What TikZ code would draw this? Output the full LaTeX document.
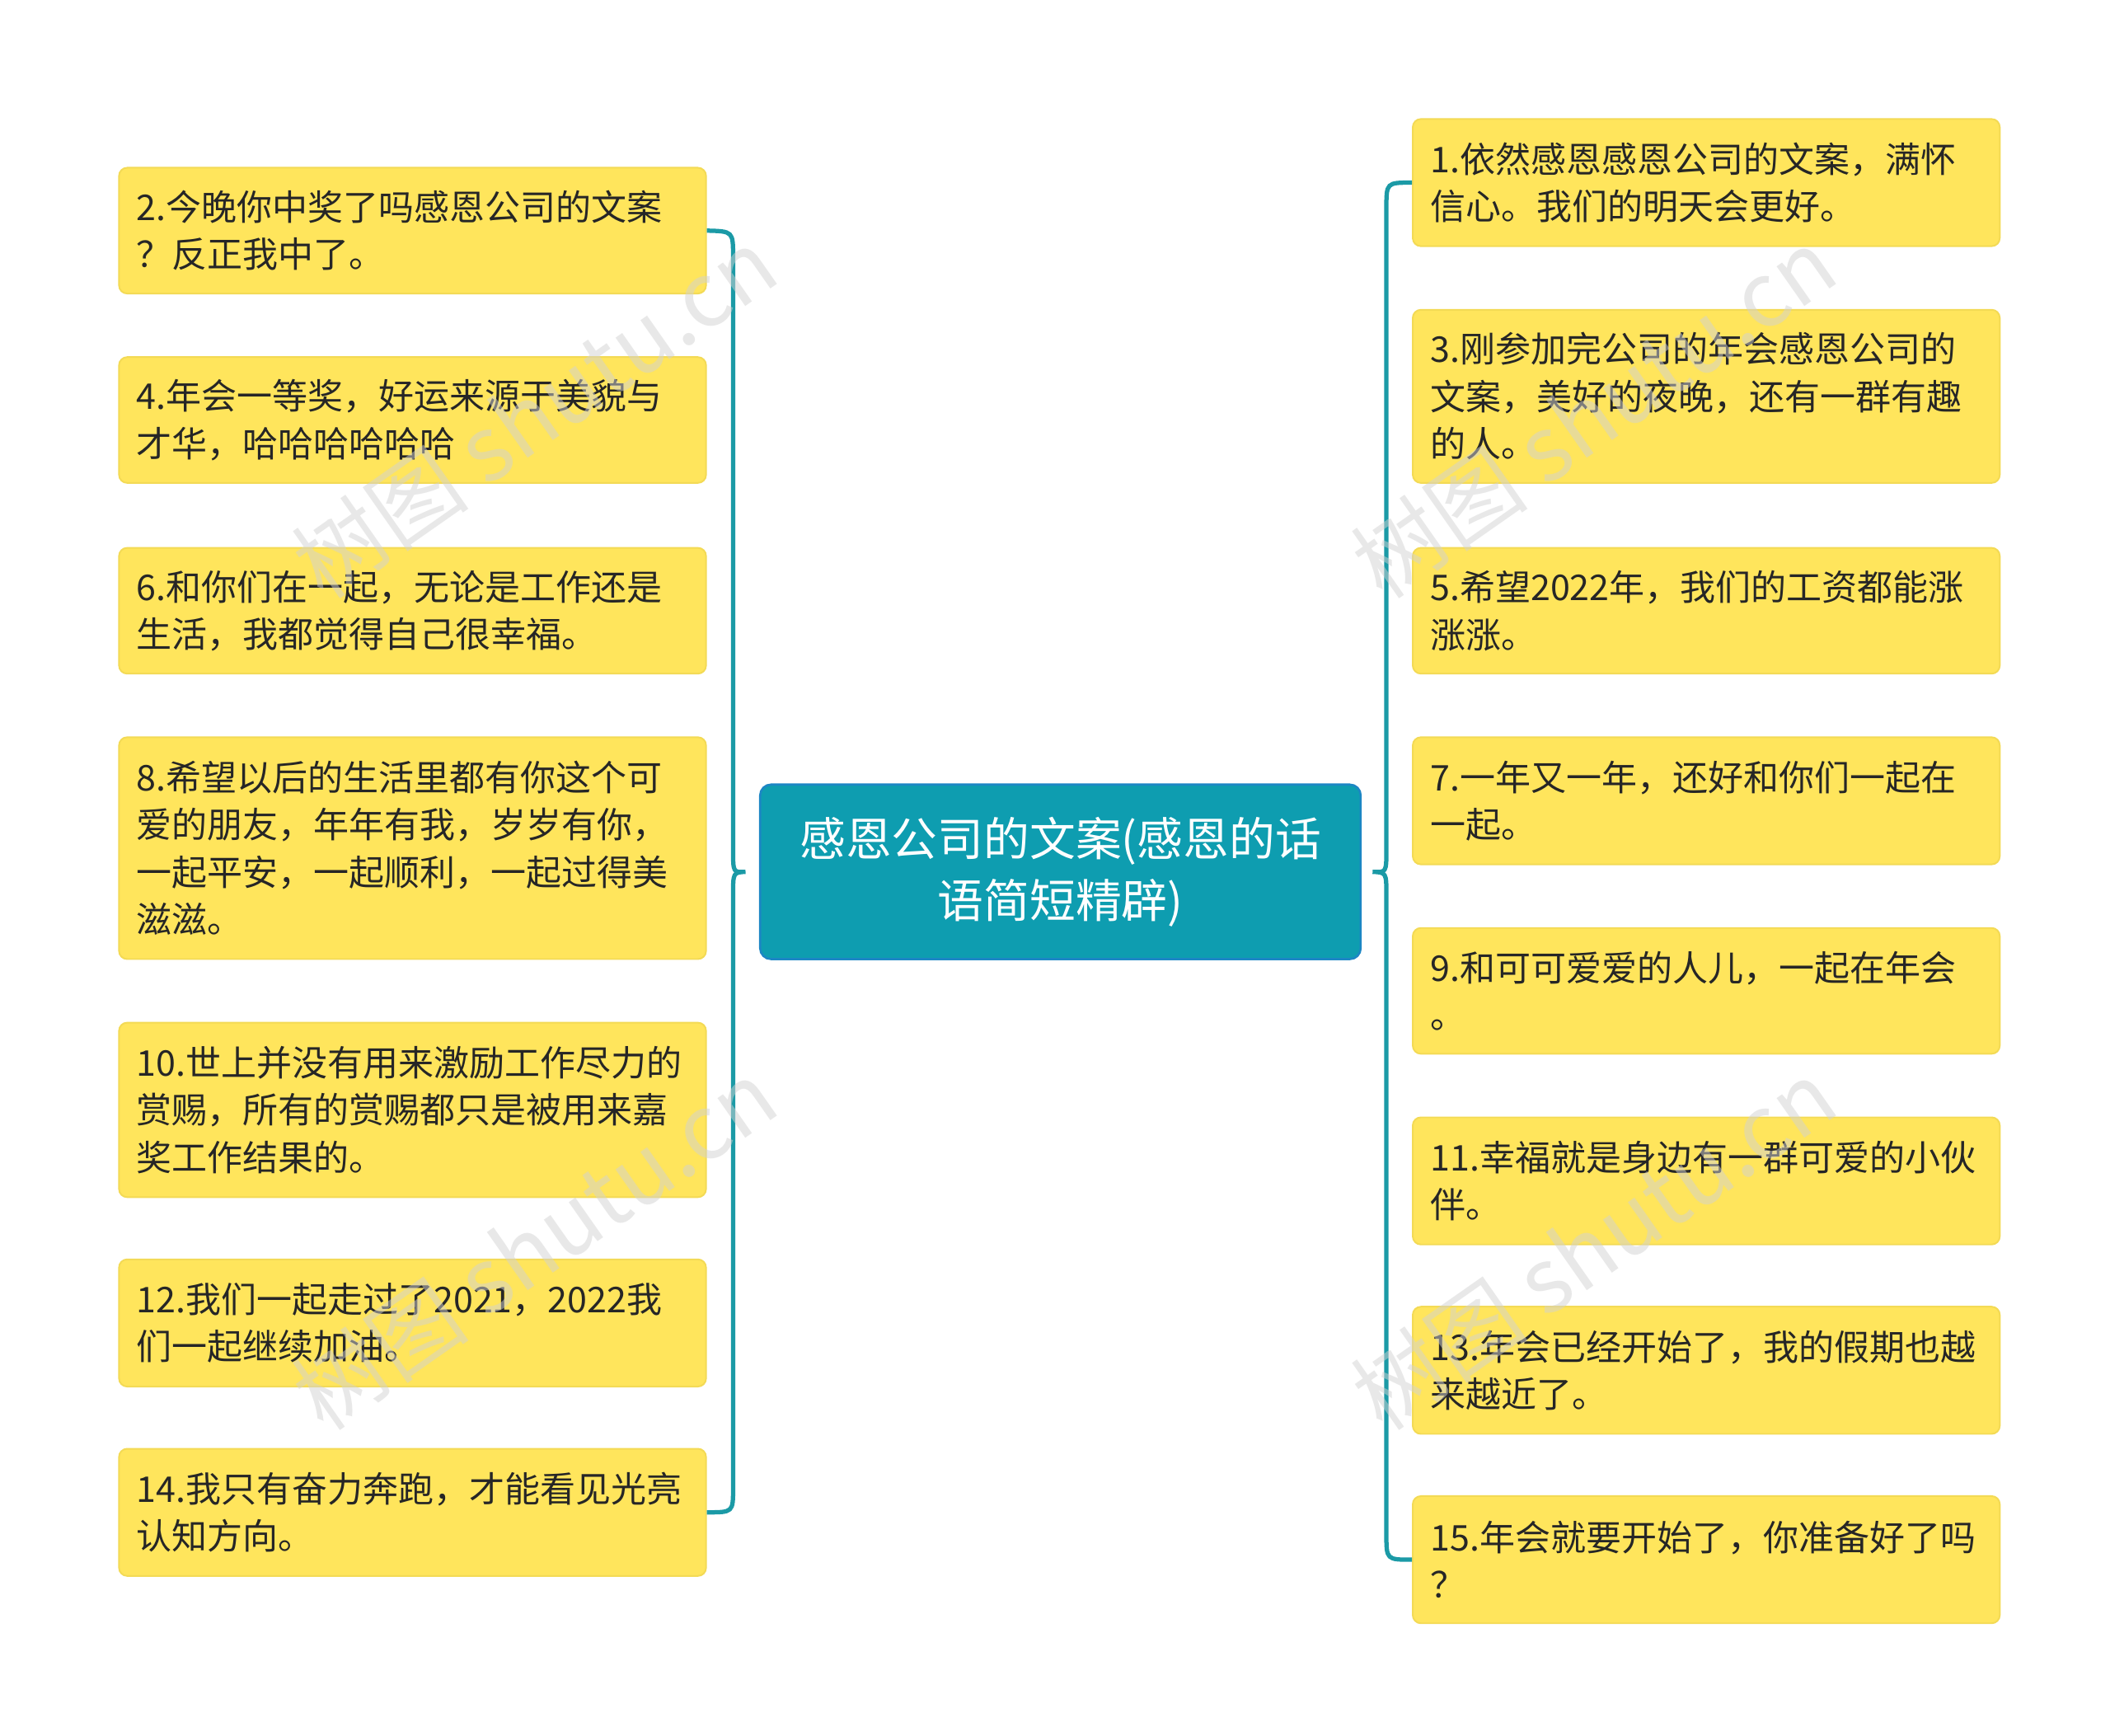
\documentclass[tikz,border=0pt]{standalone}
\usepackage{fontspec}
\newfontfamily\cjk{Noto Sans CJK SC}
\usetikzlibrary{calc}
\definecolor{yel}{HTML}{FFE55C}
\definecolor{yelb}{HTML}{F3DA55}
\definecolor{teal1}{HTML}{0E9DB0}
\definecolor{tealb}{HTML}{1C86C4}
\definecolor{ln}{HTML}{1B9AA6}
\tikzset{
 leaf/.style={draw=yelb,fill=yel,rounded corners=3pt,line width=0.6pt,font=\cjk\fontsize{13.1}{17.5}\selectfont,align=left,inner sep=0pt,text width=204pt,text=black!85},
 brace/.style={draw=ln,line width=1.6pt},
 wm/.style={text=gray!35,opacity=0.5,font=\cjk\fontsize{33}{35}\selectfont,rotate=35}
}
\begin{document}
\begin{tikzpicture}[x=0.5pt,y=-0.5pt]
\useasboundingbox (0,0) rectangle (1560,1283);
\newcommand\lf[5]{\node[leaf,minimum width=217pt,minimum height=#4*0.5pt] (#1) at (#2,#3) {#5};}
% left
\lf{l2}{305}{170.5}{93}{2.今晚你中奖了吗感恩公司的文案\\？反正我中了。}
\lf{l4}{305}{310.5}{93}{4.年会一等奖，好运来源于美貌与\\才华，哈哈哈哈哈哈}
\lf{l6}{305}{451.5}{93}{6.和你们在一起，无论是工作还是\\生活，我都觉得自己很幸福。}
\lf{l8}{305}{627}{164}{8.希望以后的生活里都有你这个可\\爱的朋友，年年有我，岁岁有你，\\一起平安，一起顺利，一起过得美\\滋滋。}
\lf{l10}{305}{820.5}{129}{10.世上并没有用来激励工作尽力的\\赏赐，所有的赏赐都只是被用来嘉\\奖工作结果的。}
\lf{l12}{305}{978}{94}{12.我们一起走过了2021，2022我\\们一起继续加油。}
\lf{l14}{305}{1118}{94}{14.我只有奋力奔跑，才能看见光亮\\认知方向。}
% right
\lf{r1}{1261.5}{135}{94}{1.依然感恩感恩公司的文案，满怀\\信心。我们的明天会更好。}
\lf{r3}{1261.5}{293}{128}{3.刚参加完公司的年会感恩公司的\\文案，美好的夜晚，还有一群有趣\\的人。}
\lf{r5}{1261.5}{451.5}{93}{5.希望2022年，我们的工资都能涨\\涨涨。}
\lf{r7}{1261.5}{592}{94}{7.一年又一年，还好和你们一起在\\一起。}
\lf{r9}{1261.5}{732.5}{93}{9.和可可爱爱的人儿，一起在年会\\。}
\lf{r11}{1261.5}{873}{94}{11.幸福就是身边有一群可爱的小伙\\伴。}
\lf{r13}{1261.5}{1013}{94}{13.年会已经开始了，我的假期也越\\来越近了。}
\lf{r15}{1261.5}{1153}{94}{15.年会就要开始了，你准备好了吗\\？}
% center
\node[draw=tealb,fill=teal1,rounded corners=4pt,line width=0.8pt,minimum width=222pt,minimum height=64.5pt,text width=205pt,align=center,inner sep=0pt,text=white,font=\cjk\fontsize{17}{23}\selectfont] (c) at (784,644.5) {感恩公司的文案(感恩的话\\语简短精辟)};
% braces
\coordinate (lt) at ($(c.west)+(-10,0)$);
\draw[brace] (l2.east) .. controls (542,171) .. (542,190) -- (542,628) .. controls (542,645) .. (lt) .. controls (542,645) .. (542,662) -- (542,1100) .. controls (542,1118) .. (l14.east);
\coordinate (rt) at ($(c.east)+(8,0)$);
\draw[brace] (r1.west) .. controls (1025,135) .. (1025,154) -- (1025,628) .. controls (1025,645) .. (rt) .. controls (1025,645) .. (1025,662) -- (1025,1134) .. controls (1025,1153) .. (r15.west);
% watermarks
\node[wm] (w1) at (395,305) {树图 shutu.cn};
\node[wm] (w2) at (395,920) {树图 shutu.cn};
\node[wm] (w3) at (1178,305) {树图 shutu.cn};
\node[wm] (w4) at (1178,920) {树图 shutu.cn};
\end{tikzpicture}
\end{document}
